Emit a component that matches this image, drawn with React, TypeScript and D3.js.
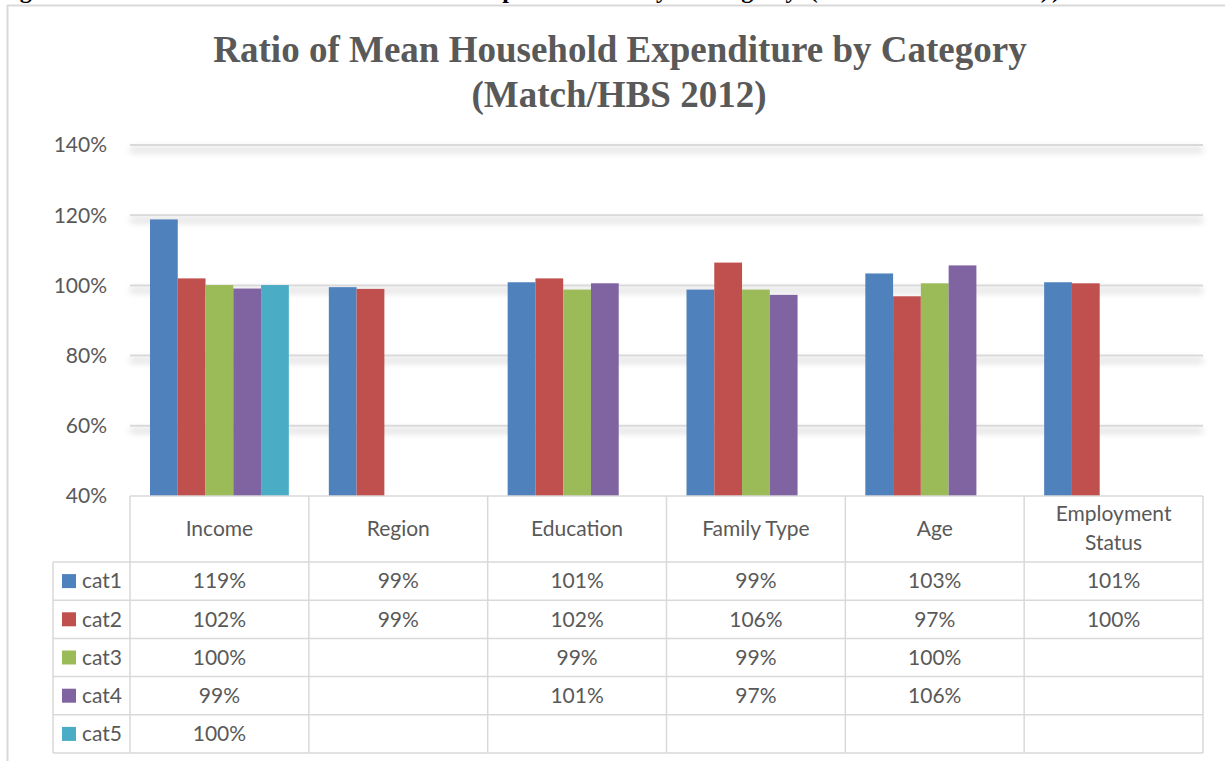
import React from 'react';
import * as d3 from 'd3';

// chart data
const categories = ['Income', 'Region', 'Education', 'Family Type', 'Age', 'Employment Status'];
const seriesNames = ['cat1', 'cat2', 'cat3', 'cat4', 'cat5'];
const seriesColors = ['#4F81BD', '#C0504D', '#9BBB59', '#8064A2', '#4BACC6'];
// values per series, one per category (null = no value)
const cat1 = [1.188, 0.995, 1.009, 0.988, 1.034, 1.009];
const cat2 = [1.02, 0.99, 1.02, 1.065, 0.969, 1.006];
const cat3 = [1.001, null, 0.988, 0.988, 1.006, null];
const cat4 = [0.991, null, 1.006, 0.973, 1.057, null];
const cat5 = [1.001, null, null, null, null, null];
// the rounded labels printed in the data table
const cat1Labels = ['119%', '99%', '101%', '99%', '103%', '101%'];
const cat2Labels = ['102%', '99%', '102%', '106%', '97%', '100%'];
const cat3Labels = ['100%', '', '99%', '99%', '100%', ''];
const cat4Labels = ['99%', '', '101%', '97%', '106%', ''];
const cat5Labels = ['100%', '', '', '', '', ''];
const yTicks = [0.4, 0.6, 0.8, 1.0, 1.2, 1.4];

const values = [cat1, cat2, cat3, cat4, cat5];
const labels = [cat1Labels, cat2Labels, cat3Labels, cat4Labels, cat5Labels];

const W = 1225;
const H = 761;
const plotLeft = 130;
const plotRight = 1203;
const plotTop = 145;
const plotBottom = 496;
const headerH = 66;
const rowH = 38.2;
const legendLeft = 53;

const textGray = '#595959';
const lineGray = '#D9D9D9';
const font = 'Lato, "Open Sans", sans-serif';
const fs = 21;

export default function App() {
  const x0 = d3.scaleBand<string>().domain(categories).range([plotLeft, plotRight]).padding(0);
  const x1 = d3
    .scaleBand<string>()
    .domain(seriesNames)
    .range([0, x0.bandwidth()])
    .paddingInner(0)
    .paddingOuter(0.72);
  const y = d3.scaleLinear().domain([0.4, 1.4]).range([plotBottom, plotTop]);
  const pct = d3.format('.0%');

  const tableTop = plotBottom;
  const rowsTop = tableTop + headerH;
  const tableBottom = rowsTop + rowH * seriesNames.length;

  return (
    <svg
      width={W}
      height={H}
      style={{ position: 'fixed', left: 0, top: 0, background: '#fff' }}
    >
      <defs>
        <filter id="gridShadow" x="-5%" y="-300%" width="110%" height="800%">
          <feGaussianBlur in="SourceAlpha" stdDeviation="3.5" />
          <feOffset dy="5" result="blur" />
          <feComponentTransfer>
            <feFuncA type="linear" slope="0.35" />
          </feComponentTransfer>
          <feMerge>
            <feMergeNode />
            <feMergeNode in="SourceGraphic" />
          </feMerge>
        </filter>
      </defs>

      {/* caption of the page, cut off at the top */}
      <text
        x={-8}
        y={-2}
        textLength={1068}
        lengthAdjust="spacing"
        fontFamily='"Liberation Serif", "Times New Roman", serif'
        fontWeight="bold"
        fontSize={24}
        fill="#000"
      >
        Figure 5: Ratio of Mean Household Expenditure by Category (Match/HBS 2012))
      </text>

      {/* chart frame */}
      <line x1={7} x2={W} y1={5.5} y2={5.5} stroke={lineGray} strokeWidth={2} />
      <line x1={7.5} x2={7.5} y1={5} y2={H} stroke={lineGray} strokeWidth={2} />

      {/* title */}
      <g
        fontFamily='"Liberation Serif", "Times New Roman", serif'
        fontWeight="bold"
        fontSize={37}
        fill={textGray}
        textAnchor="middle"
      >
        <text x={620} y={62}>Ratio of Mean Household Expenditure by Category</text>
        <text x={619} y={107}>(Match/HBS 2012)</text>
      </g>

      {/* gridlines */}
      <g filter="url(#gridShadow)">
        {yTicks
          .filter((t) => t > 0.4)
          .map((t) => (
            <line
              key={t}
              x1={plotLeft}
              x2={plotRight}
              y1={y(t)}
              y2={y(t)}
              stroke={lineGray}
              strokeWidth={2}
            />
          ))}
      </g>

      {/* y tick labels */}
      <g fontFamily={font} fontSize={fs} fill={textGray} textAnchor="end">
        {yTicks.map((t) => (
          <text key={t} x={107} y={y(t)} dy="0.35em">
            {pct(t)}
          </text>
        ))}
      </g>

      {/* bars */}
      {values.map((vals, si) => (
        <g key={seriesNames[si]} fill={seriesColors[si]}>
          {vals.map((v, ci) =>
            v == null ? null : (
              <rect
                key={ci}
                x={(x0(categories[ci]) ?? 0) + (x1(seriesNames[si]) ?? 0)}
                y={y(v)}
                width={x1.bandwidth()}
                height={y(0.4) - y(v)}
              />
            )
          )}
        </g>
      ))}

      {/* data table */}
      <g stroke={lineGray} strokeWidth={1.5} fill="none">
        <line x1={plotLeft} x2={plotRight} y1={tableTop} y2={tableTop} />
        {seriesNames.map((s, i) => (
          <line key={s} x1={legendLeft} x2={plotRight} y1={rowsTop + i * rowH} y2={rowsTop + i * rowH} />
        ))}
        <line x1={legendLeft} x2={plotRight} y1={tableBottom} y2={tableBottom} />
        <line x1={legendLeft} x2={legendLeft} y1={rowsTop} y2={tableBottom} />
        {categories.map((c) => (
          <line key={c} x1={x0(c)} x2={x0(c)} y1={tableTop} y2={tableBottom} />
        ))}
        <line x1={plotRight} x2={plotRight} y1={tableTop} y2={tableBottom} />
      </g>

      <g fontFamily={font} fontSize={fs} fill={textGray} textAnchor="middle">
        {categories.map((c) => {
          const cx = (x0(c) ?? 0) + x0.bandwidth() / 2;
          const words = c === 'Employment Status' ? ['Employment', 'Status'] : [c];
          const cy = tableTop + headerH / 2;
          return words.length === 1 ? (
            <text key={c} x={cx} y={cy} dy="0.35em">
              {c}
            </text>
          ) : (
            <text key={c} x={cx} y={cy - 15} dy="0.35em">
              <tspan x={cx}>{words[0]}</tspan>
              <tspan x={cx} dy={29}>
                {words[1]}
              </tspan>
            </text>
          );
        })}
        {labels.map((row, si) =>
          row.map((l, ci) =>
            l ? (
              <text
                key={`${si}-${ci}`}
                x={(x0(categories[ci]) ?? 0) + x0.bandwidth() / 2}
                y={rowsTop + si * rowH + rowH / 2}
                dy="0.35em"
              >
                {l}
              </text>
            ) : null
          )
        )}
      </g>

      {/* legend keys in the table */}
      {seriesNames.map((s, i) => (
        <g key={s}>
          <rect
            x={62}
            y={rowsTop + i * rowH + rowH / 2 - 7}
            width={14}
            height={14}
            fill={seriesColors[i]}
          />
          <text
            x={82}
            y={rowsTop + i * rowH + rowH / 2}
            dy="0.35em"
            fontFamily={font}
            fontSize={fs}
            fill={textGray}
          >
            {s}
          </text>
        </g>
      ))}
    </svg>
  );
}
